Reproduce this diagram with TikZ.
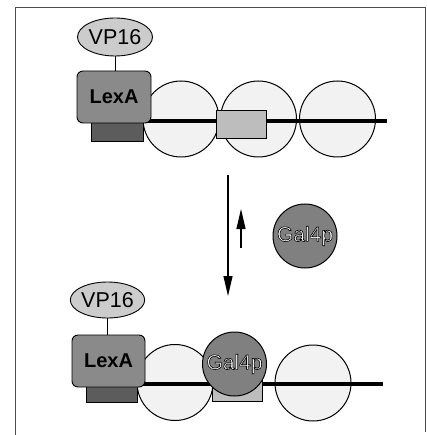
\documentclass[tikz,border=0pt]{standalone}
\usepackage{fontspec}
\newfontfamily\labfont{Liberation Sans}
\usetikzlibrary{shapes.geometric,arrows.meta}

% outlined lettering: fill with the current colour, stroke in black
\newcommand\outlinetext[1]{\special{pdf:literal direct 2 Tr 0.6 w 0 G}#1\special{pdf:literal direct 0 Tr}}

\definecolor{vpgray}{gray}{0.80}
\definecolor{lexgray}{gray}{0.54}
\definecolor{footgray}{gray}{0.36}
\definecolor{nucgray}{gray}{0.95}
\definecolor{sitegray}{gray}{0.74}
\definecolor{galgray}{gray}{0.50}

\begin{document}
\begin{tikzpicture}[x=1pt,y=-1pt,
  every node/.style={inner sep=0pt, outer sep=0pt},
  vp/.style={ellipse, draw, line width=0.9pt, fill=vpgray, minimum width=75pt, minimum height=38pt,
    font=\labfont\fontsize{21.5}{21.5}\selectfont},
  lexa/.style={rectangle, rounded corners=6pt, draw, line width=0.9pt, fill=lexgray,
    minimum width=74pt, minimum height=52pt, font=\labfont\bfseries\fontsize{20}{20}\selectfont},
  foot/.style={rectangle, draw, line width=0.8pt, fill=footgray, minimum width=52pt, minimum height=20pt},
  nuc/.style={circle, draw, line width=1pt, fill=nucgray, minimum size=76pt},
  site/.style={rectangle, draw, line width=0.9pt, fill=sitegray, minimum width=50pt, minimum height=28pt},
  gal/.style={circle, draw, line width=1pt, fill=galgray, minimum size=64pt,
    font=\labfont\fontsize{21}{21}\selectfont, text=white},
  dna/.style={line width=3.2pt},
  link/.style={line width=0.8pt},
  arr/.style={line width=1.1pt, -{Triangle[width=9pt,length=20pt]}},
  framestyle/.style={line width=0.8pt, draw=black!70}
]
\useasboundingbox (0,0) rectangle (426,435);

% page frame
\coordinate (fBL) at (15,435);
\coordinate (fTL) at (15,7);
\coordinate (fTR) at (425,7);
\coordinate (fBR) at (425,432);
\draw[framestyle] (fBL) -- (fTL) -- (fTR) -- (fBR);

% ---------- upper state: nucleosomes in place ----------
\node[nuc] (nucA1) at (181,119) {};
\node[nuc] (nucB1) at (258.5,119) {};
\node[nuc] (nucC1) at (337.5,119) {};
\coordinate (dnaA1) at (140,121);
\coordinate (dnaB1) at (387,121);
\draw[dna] (dnaA1) -- (dnaB1);
\node[site] (site1) at (241,124) {};
\node[foot] (foot1) at (117.5,131) {};
\node[lexa] (lexa1) at (114,97) {LexA};
\node[vp] (vp1) at (115,37) {VP16};
\draw[link] (vp1.south) -- (vp1.south |- lexa1.north);

% ---------- equilibrium arrows and free Gal4p ----------
\coordinate (downS) at (228,175);
\coordinate (downE) at (228,296);
\draw[arr] (downS) -- (downE);
\coordinate (upS) at (241,248);
\coordinate (upE) at (241,209);
\draw[arr] (upS) -- (upE);
\node[gal] (gal1) at (305,236) {\outlinetext{Gal4p}};

% ---------- lower state: Gal4p bound ----------
\node[nuc] (nucA2) at (175,382.5) {};
\node[nuc] (nucC2) at (313,383) {};
\coordinate (dnaA2) at (130,384);
\coordinate (dnaB2) at (383,384);
\draw[dna] (dnaA2) -- (dnaB2);
\node[site] (site2) at (237,387) {};
\node[gal] (gal2) at (234.5,364) {\outlinetext{Gal4p}};
\node[foot, minimum width=51pt, minimum height=18pt] (foot2) at (111.5,393) {};
\node[lexa, minimum width=73pt] (lexa2) at (108.5,361) {LexA};
\node[vp, minimum width=74pt, minimum height=36pt] (vp2) at (107.5,300) {VP16};
\draw[link] (vp2.south) -- (vp2.south |- lexa2.north);
\end{tikzpicture}
\end{document}
